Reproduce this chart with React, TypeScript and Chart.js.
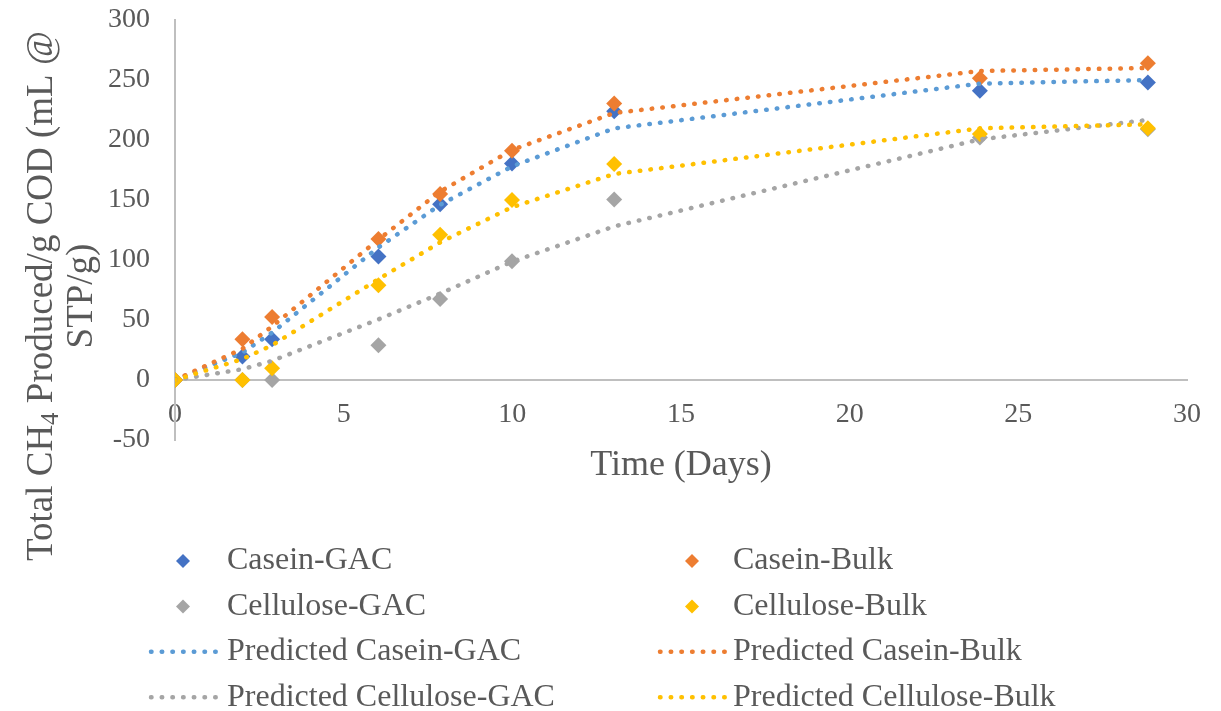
import React, { useEffect, useRef } from 'react';
import { Chart, registerables } from 'chart.js';

Chart.register(...registerables);

// ---------- data ----------
const days = [0, 2, 2.88, 6.03, 7.86, 9.99, 13.02, 23.86, 28.84];

const caseinGAC = [0, 19.5, 34, 103, 146.5, 180.5, 224, 241, 248];
const caseinBulk = [0, 34, 52.5, 117.5, 155, 191, 230.5, 251.5, 264];
const celluloseGAC = [0, 0, 0, 29, 67.5, 99, 150.5, 202, 209];
const celluloseBulk = [0, 0, 9.7, 79, 121, 150, 180, 205, 209.7];

const predCaseinGAC = [0, 23, 39.5, 110.5, 146, 178, 209.7, 247, 250];
const predCaseinBulk = [0, 26, 44.7, 117, 157, 191.7, 222.5, 257.5, 260];
const predCelluloseGAC = [0, 9, 16, 50.5, 72, 98.6, 128, 200.5, 216.7];
const predCelluloseBulk = [0, 17.5, 29, 84, 114.7, 144, 171.7, 209.7, 213];

const seriesNames = [
  'Casein-GAC',
  'Casein-Bulk',
  'Cellulose-GAC',
  'Cellulose-Bulk',
  'Predicted Casein-GAC',
  'Predicted Casein-Bulk',
  'Predicted Cellulose-GAC',
  'Predicted Cellulose-Bulk',
];
const seriesColors = ['#4472C4', '#ED7D31', '#A5A5A5', '#FFC000', '#5B9BD5', '#ED7D31', '#A5A5A5', '#FFC000'];

const xMin = 0;
const xMax = 30;
const xStep = 5;
const yMin = -50;
const yMax = 300;
const yStep = 50;

const xTitle = 'Time (Days)';
const yTitleLine1 = ['Total CH', '4', ' Produced/g COD (mL @'];
const yTitleLine2 = 'STP/g)';

// ---------- styles ----------
const FONT = "'Liberation Serif', 'Times New Roman', serif";
const TEXT = '#595959';
const AXIS = '#BFBFBF';
const DOT_DASH = [0.5, 10.2];
const DOT_WIDTH = 4.5;

const toPts = (ys: number[]) => ys.map((y, i) => ({ x: days[i], y }));

const textPlugin = {
  id: 'customText',
  afterDraw(chart: any) {
    const ctx = chart.ctx as CanvasRenderingContext2D;
    const area = chart.chartArea;
    ctx.save();
    ctx.fillStyle = TEXT;

    // x title
    ctx.font = `36px ${FONT}`;
    ctx.textAlign = 'center';
    ctx.textBaseline = 'middle';
    ctx.fillText(xTitle, (area.left + area.right) / 2, 466);

    // y title (rotated)
    ctx.save();
    ctx.translate(60, 296);
    ctx.rotate(-Math.PI / 2);
    ctx.textAlign = 'left';
    ctx.textBaseline = 'alphabetic';
    const big = `37px ${FONT}`;
    const small = `25px ${FONT}`;
    ctx.font = big;
    const w0 = ctx.measureText(yTitleLine1[0]).width;
    const w2 = ctx.measureText(yTitleLine1[2]).width;
    ctx.font = small;
    const w1 = ctx.measureText(yTitleLine1[1]).width;
    const total = w0 + w1 + w2;
    let x = -total / 2;
    const base1 = -20 + 12;
    ctx.font = big;
    ctx.fillText(yTitleLine1[0], x, base1);
    x += w0;
    ctx.font = small;
    ctx.fillText(yTitleLine1[1], x, base1 + 6);
    x += w1;
    ctx.font = big;
    ctx.fillText(yTitleLine1[2], x, base1);
    ctx.textAlign = 'center';
    ctx.fillText(yTitleLine2, 0, 20 + 12);
    ctx.restore();

    // legend
    const colMarker = [183, 692];
    const colText = [227, 733];
    const rowY0 = 561;
    const rowH = 45.4;
    ctx.font = `32px ${FONT}`;
    ctx.textAlign = 'left';
    ctx.textBaseline = 'middle';
    chart.data.datasets.forEach((ds: any, i: number) => {
      const col = i % 2;
      const row = Math.floor(i / 2);
      const cy = rowY0 + row * rowH;
      const cx = colMarker[col];
      if (ds.showLine) {
        ctx.save();
        ctx.strokeStyle = ds.borderColor;
        ctx.lineWidth = DOT_WIDTH;
        ctx.lineCap = 'round';
        ctx.setLineDash(DOT_DASH);
        ctx.beginPath();
        ctx.moveTo(cx - 32, cy);
        ctx.lineTo(cx + 36, cy);
        ctx.stroke();
        ctx.restore();
      } else {
        ctx.save();
        ctx.fillStyle = ds.backgroundColor;
        ctx.beginPath();
        ctx.moveTo(cx - 7, cy);
        ctx.lineTo(cx, cy - 7);
        ctx.lineTo(cx + 7, cy);
        ctx.lineTo(cx, cy + 7);
        ctx.closePath();
        ctx.fill();
        ctx.restore();
      }
      ctx.fillStyle = TEXT;
      ctx.fillText(ds.label, colText[col], cy);
    });
    ctx.restore();
  },
};

export default function App() {
  const ref = useRef<HTMLCanvasElement | null>(null);

  useEffect(() => {
    if (!ref.current) return;
    const markerSeries = [caseinGAC, caseinBulk, celluloseGAC, celluloseBulk];
    const lineSeries = [predCaseinGAC, predCaseinBulk, predCelluloseGAC, predCelluloseBulk];
    const datasets: any[] = [];
    markerSeries.forEach((s, i) => {
      datasets.push({
        label: seriesNames[i],
        data: toPts(s),
        showLine: false,
        pointStyle: 'rectRot',
        pointRadius: 8,
        pointHoverRadius: 8,
        pointBorderWidth: 0,
        backgroundColor: seriesColors[i],
        borderColor: seriesColors[i],
        order: 8 - i,
      });
    });
    lineSeries.forEach((s, i) => {
      datasets.push({
        label: seriesNames[i + 4],
        data: toPts(s),
        showLine: true,
        pointRadius: 0,
        pointHoverRadius: 0,
        borderColor: seriesColors[i + 4],
        backgroundColor: seriesColors[i + 4],
        borderWidth: DOT_WIDTH,
        borderDash: DOT_DASH,
        borderCapStyle: 'round',
        fill: false,
        tension: 0,
        order: 4 - i,
      });
    });

    const chart = new Chart(ref.current, {
      type: 'scatter',
      data: { datasets },
      options: {
        animation: false,
        responsive: false,
        layout: { padding: { left: 0, top: 20, right: 34, bottom: 271 } },
        plugins: {
          legend: { display: false },
          tooltip: { enabled: false },
          title: { display: false },
        },
        scales: {
          x: {
            type: 'linear',
            min: xMin,
            max: xMax,
            position: { y: 0 } as any,
            grid: { display: false, drawTicks: false },
            border: { display: true, color: AXIS, width: 2 },
            ticks: {
              stepSize: xStep,
              color: TEXT,
              font: { family: FONT, size: 28 },
              padding: 18,
              maxRotation: 0,
            },
          },
          y: {
            type: 'linear',
            min: yMin,
            max: yMax,
            position: 'left',
            grid: { display: false, drawTicks: false },
            border: { display: true, color: AXIS, width: 2 },
            ticks: {
              stepSize: yStep,
              color: TEXT,
              font: { family: FONT, size: 28 },
              padding: 25,
            },
            afterFit: (s: any) => {
              s.width = 175;
              s.paddingTop = 0;
              s.paddingBottom = 0;
            },
          },
        },
      },
      plugins: [textPlugin],
    });
    return () => chart.destroy();
  }, []);

  return (
    <div style={{ position: 'fixed', left: 0, top: 0, width: 1221, height: 711, background: '#fff' }}>
      <canvas ref={ref} width={1221} height={711} style={{ display: 'block' }} />
    </div>
  );
}
